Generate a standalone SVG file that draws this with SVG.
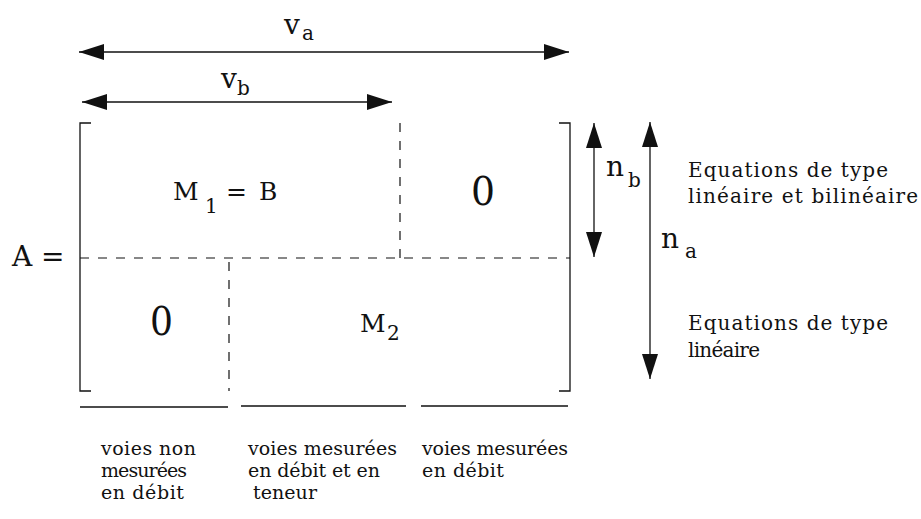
<svg xmlns="http://www.w3.org/2000/svg" width="921" height="519" viewBox="0 0 921 519" font-family="'DejaVu Serif', serif">
<defs>
<style>
.lbl{font-size:19px;fill:#111}
.eq{font-size:20px;fill:#111}
.big{font-size:25px;fill:#111}
.sym{font-size:28px;fill:#111}
.zero{font-size:40px;fill:#111}
.sub{font-size:20px;fill:#111}
.ln{stroke:#111;stroke-width:1.3;fill:none}
.dash{stroke:#111;stroke-width:1.2;fill:none;stroke-dasharray:9,9}
</style>
<marker id="ah" viewBox="0 0 25 16" refX="25" refY="8" markerWidth="25" markerHeight="16" markerUnits="userSpaceOnUse" orient="auto-start-reverse">
<path d="M0,0 L25,8 L0,16 Z" fill="#111"/>
</marker>
</defs>
<g id="connectors">
<line class="ln" x1="79" y1="52" x2="569" y2="52" marker-start="url(#ah)" marker-end="url(#ah)"/>
<line class="ln" x1="82" y1="102" x2="392" y2="102" marker-start="url(#ah)" marker-end="url(#ah)"/>
<line class="ln" x1="594" y1="123" x2="594" y2="257" marker-start="url(#ah)" marker-end="url(#ah)"/>
<line class="ln" x1="650" y1="122" x2="650" y2="379" marker-start="url(#ah)" marker-end="url(#ah)"/>
</g>
<g id="label-va"><text class="sym" x="284" y="34">v</text><text class="sub" x="302" y="40">a</text></g>
<g id="label-vb"><text class="sym" x="221" y="88">v</text><text class="sub" x="237" y="95">b</text></g>
<g id="label-nb"><text class="sym" x="606" y="176">n</text><text class="sub" x="628" y="187">b</text></g>
<g id="label-na"><text class="sym" x="661" y="248">n</text><text class="sub" x="685" y="258">a</text></g>
<g id="matrix">
<text class="sym" x="12" y="266">A =</text>
<path class="ln" d="M91,123 H80 V391 H91"/>
<path class="ln" d="M559,123 H570 V391 H559"/>
<line class="dash" x1="80" y1="258" x2="570" y2="258"/>
<line class="dash" x1="400" y1="123" x2="400" y2="258"/>
<line class="dash" x1="229" y1="262" x2="229" y2="391"/>
</g>
<g id="M1">
<text class="big" x="173" y="200">M</text><text class="sub" x="205" y="213">1</text><text class="big" x="226" y="200">=</text><text class="big" x="259" y="200">B</text>
</g>
<g id="zero-top"><text class="zero" x="471" y="205" textLength="24" lengthAdjust="spacingAndGlyphs">0</text></g>
<g id="zero-bottom"><text class="zero" x="150" y="335" textLength="23" lengthAdjust="spacingAndGlyphs">0</text></g>
<g id="M2"><text class="big" x="360" y="332">M</text><text class="sub" x="387" y="340">2</text></g>
<g id="underlines">
<line class="ln" x1="80" y1="407" x2="228" y2="407"/>
<line class="ln" x1="241" y1="406" x2="406" y2="406"/>
<line class="ln" x1="421" y1="406" x2="568" y2="406"/>
</g>
<g id="col1"><text class="lbl" x="101" y="455" textLength="95">voies non</text><text class="lbl" x="101" y="477" textLength="86">mesurées</text><text class="lbl" x="101" y="499" textLength="83">en débit</text></g>
<g id="col2"><text class="lbl" x="248" y="455" textLength="149">voies mesurées</text><text class="lbl" x="248" y="477" textLength="132">en débit et en</text><text class="lbl" x="253" y="499" textLength="64">teneur</text></g>
<g id="col3"><text class="lbl" x="422" y="455" textLength="146">voies mesurées</text><text class="lbl" x="422" y="477" textLength="82">en débit</text></g>
<g id="eq1"><text class="eq" x="688" y="177" textLength="200">Equations de type</text><text class="eq" x="688" y="203" textLength="230">linéaire et bilinéaire</text></g>
<g id="eq2"><text class="eq" x="688" y="330" textLength="200">Equations de type</text><text class="eq" x="688" y="357" textLength="72">linéaire</text></g>
</svg>
